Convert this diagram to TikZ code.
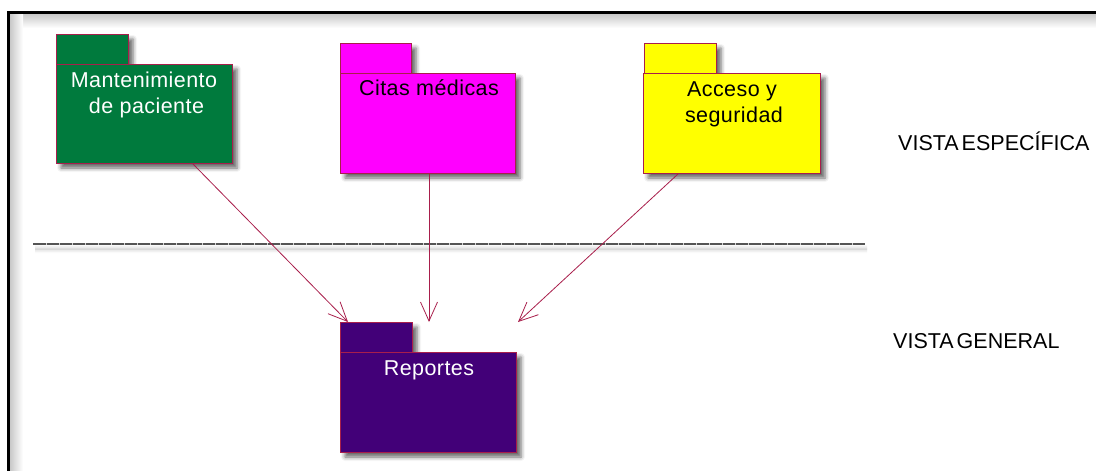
\documentclass[tikz,border=0pt]{standalone}
\usepackage{fontspec}
\setmainfont{Liberation Sans}
\usetikzlibrary{arrows.meta,shadows.blur}
\definecolor{edge}{RGB}{168,30,75}
\definecolor{pgreen}{RGB}{0,122,61}
\definecolor{pmagenta}{RGB}{255,0,255}
\definecolor{pyellow}{RGB}{255,255,0}
\definecolor{ppurple}{RGB}{66,0,120}
\definecolor{sepgray}{RGB}{85,85,85}
\tikzset{
  pkgshadow/.style={blur shadow={shadow xshift=5pt,shadow yshift=-5pt,shadow blur radius=4pt,shadow opacity=60}},
  pkg/.style={draw=edge,line width=0.8pt,rectangle,inner sep=0pt,outer sep=0pt,anchor=north west,pkgshadow},
  lbl/.style={inner sep=0pt,anchor=base,font=\fontsize{21.5pt}{26pt}\selectfont\addfontfeatures{LetterSpace=2}},
  vista/.style={inner sep=0pt,anchor=base west,font=\fontsize{21.5pt}{24pt}\selectfont},
  dep/.style={draw=edge,line width=0.8pt,-{Straight Barb[length=19pt,width=17pt,line width=0.8pt]}},
}
\begin{document}
\begin{tikzpicture}[x=1pt,y=-1pt]
\useasboundingbox (0,0) rectangle (1096,471);
% frame inner shadow
\shade[top color=black!22,bottom color=white] (9.5,13.5) rectangle (1096,28);
\shade[left color=black!22,right color=white] (9.5,13.5) rectangle (23,471);
\draw[line width=3pt,line cap=rect] (8,471) -- (8,12) -- (1096,12);
% separator
\coordinate (sepL) at (33,244);
\coordinate (sepR) at (865,244);
\draw[line width=2pt,sepgray,blur shadow={shadow xshift=2pt,shadow yshift=-5pt,shadow blur radius=4pt,shadow opacity=30}] (sepL) -- (sepR);
\foreach \x in {46,59,...,860} {\draw[white!75!sepgray,line width=0.5pt] (\x,243) -- (\x,245);}
% package: Mantenimiento
\node[pkg,fill=pgreen,minimum width=72pt,minimum height=31pt] (mtab) at (56,34) {};
\node[pkg,fill=pgreen,minimum width=176pt,minimum height=99pt] (m) at (56,64) {};
\node[lbl,text=white] (m1) at (144,87) {Mantenimiento};
\node[lbl,text=white] (m2) at (146.5,113) {de paciente};
% package: Citas
\node[pkg,fill=pmagenta,minimum width=71pt,minimum height=31pt] (ctab) at (340,43) {};
\node[pkg,fill=pmagenta,minimum width=175pt,minimum height=100pt] (c) at (340,73) {};
\node[lbl,text=black] (c1) at (429,95) {Citas médicas};
% package: Acceso
\node[pkg,fill=pyellow,minimum width=72pt,minimum height=31pt] (atab) at (644,43) {};
\node[pkg,fill=pyellow,minimum width=177pt,minimum height=100pt] (a) at (643,73) {};
\node[lbl,text=black] (a1) at (732,96) {Acceso y};
\node[lbl,text=black] (a2) at (734,122) {seguridad};
% package: Reportes
\node[pkg,fill=ppurple,minimum width=72pt,minimum height=31pt] (rtab) at (340,322) {};
\node[pkg,fill=ppurple,minimum width=176pt,minimum height=100pt] (r) at (340,352) {};
\node[lbl,text=white] (r1) at (429,375) {Reportes};
% dependencies
\coordinate (ms) at (193,164);
\coordinate (cs) at (429,174);
\coordinate (as) at (678,174);
\coordinate (mt) at (348,322);
\coordinate (ct) at (429,322);
\coordinate (at) at (518,322);
\draw[dep] (ms) -- (mt);
\draw[dep] (cs) -- (ct);
\draw[dep] (as) -- (at);
% view labels
\node[vista] (ve) at (898,150) {VISTA\hspace{3pt}ESPECÍFICA};
\node[vista] (vg) at (893,348) {VISTA\hspace{3pt}GENERAL};
\end{tikzpicture}
\end{document}
